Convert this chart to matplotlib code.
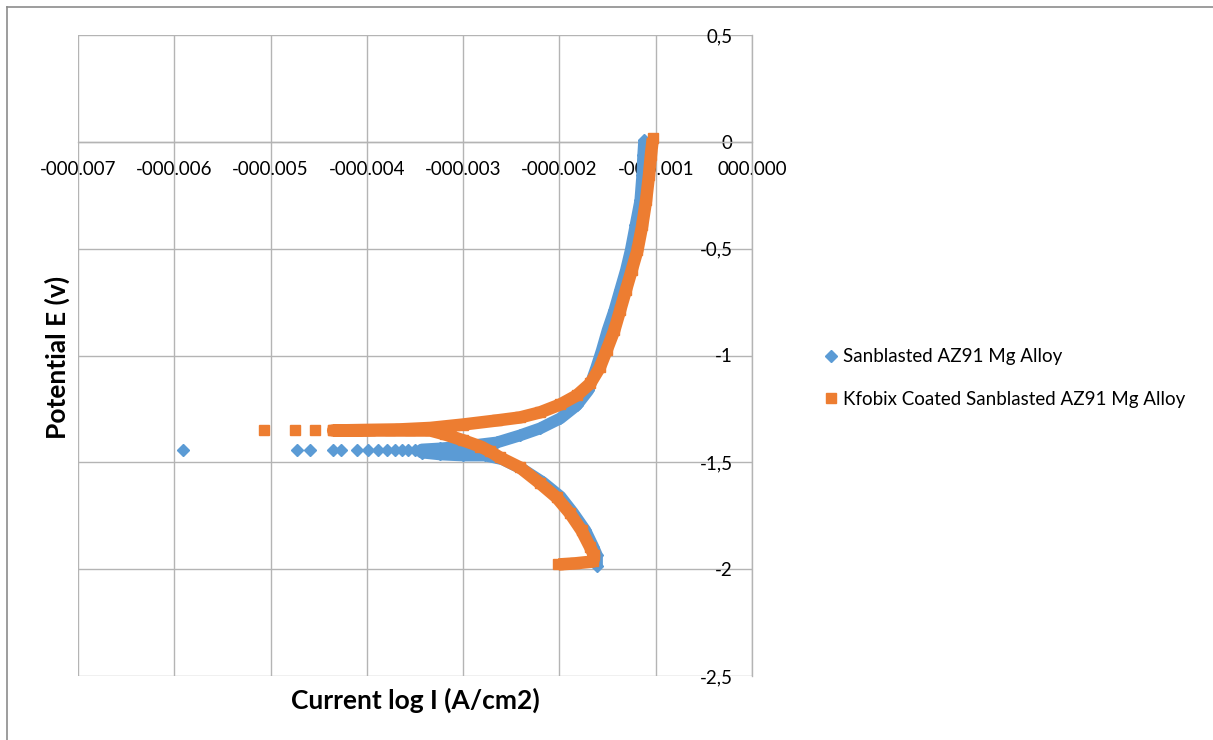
import matplotlib
matplotlib.use("Agg")
import matplotlib.pyplot as plt
import numpy as np
from matplotlib.lines import Line2D
from matplotlib.ticker import FuncFormatter

plt.rcParams['font.family'] = ['Lato', 'DejaVu Sans']

# current (log I) in units of 1e-3, potential E in V
# Sanblasted AZ91 Mg Alloy: dense part, cathodic end -> Ecorr -> anodic end
blue_i = [-1.61, -1.61, -1.65, -1.73, -1.86, -1.99, -2.17, -2.38, -2.59, -2.77, -3.00, -3.24, -3.43,
          -3.43, -3.24, -3.00, -2.65, -2.41, -2.20, -1.99, -1.82, -1.70, -1.62, -1.56, -1.50, -1.43,
          -1.37, -1.31, -1.26, -1.21, -1.16, -1.14, -1.13, -1.12]
blue_e = [-1.983, -1.936, -1.894, -1.819, -1.735, -1.660, -1.594, -1.533, -1.486, -1.468, -1.468, -1.463, -1.454,
          -1.440, -1.435, -1.426, -1.407, -1.374, -1.341, -1.294, -1.233, -1.163, -1.060, -0.976, -0.882, -0.789,
          -0.695, -0.602, -0.508, -0.391, -0.274, -0.157, -0.063, 0.007]
# scattered points near Ecorr
blue_tail_i = [-5.91, -4.73, -4.59, -4.35, -4.27, -4.10, -3.99, -3.88, -3.79, -3.71, -3.63, -3.57, -3.50]
blue_tail_e = [-1.444] * len(blue_tail_i)

# Kfobix Coated Sanblasted AZ91 Mg Alloy
orange_i = [-2.01, -1.84, -1.65, -1.64, -1.68, -1.77, -1.89, -2.03, -2.20, -2.41, -2.62, -2.72, -2.82,
            -3.00, -3.19, -3.34, -3.55, -3.76, -3.97, -4.17, -4.35,
            -4.35, -3.97, -3.66, -3.34, -3.00, -2.65, -2.41, -2.20, -1.99, -1.82, -1.68, -1.58, -1.51,
            -1.43, -1.37, -1.31, -1.25, -1.19, -1.14, -1.10, -1.07, -1.05, -1.03]
orange_e = [-1.978, -1.973, -1.964, -1.936, -1.898, -1.819, -1.739, -1.664, -1.599, -1.524, -1.477, -1.449, -1.426,
            -1.397, -1.369, -1.351, -1.351, -1.351, -1.351, -1.351, -1.351,
            -1.351, -1.348, -1.346, -1.339, -1.323, -1.304, -1.290, -1.266, -1.229, -1.187, -1.131, -1.056, -0.976,
            -0.882, -0.789, -0.695, -0.602, -0.508, -0.391, -0.274, -0.157, -0.063, 0.016]
orange_tail_i = [-5.07, -4.75, -4.54]
orange_tail_e = [-1.351] * len(orange_tail_i)

labels = ['Sanblasted AZ91 Mg Alloy', 'Kfobix Coated Sanblasted AZ91 Mg Alloy']
blue = '#5B9BD5'
orange = '#ED7D31'
grid_c = '#b4b4b4'

fig = plt.figure(figsize=(12.13, 7.40), dpi=100)
ax = fig.add_axes([78 / 1213, 64 / 740, 674 / 1213, 641 / 740])

scale = 1e-3
ax.plot(np.array(blue_i) * scale, blue_e, color=blue, lw=8.5, marker='D', ms=6, solid_capstyle='butt',
        solid_joinstyle='round', zorder=3)
ax.plot(np.array(blue_tail_i) * scale, blue_tail_e, ls='none', color=blue, marker='D', ms=6, zorder=3)
ax.plot(np.array(orange_i) * scale, orange_e, color=orange, lw=9, marker='s', ms=7.5, solid_capstyle='butt',
        solid_joinstyle='round', zorder=4)
ax.plot(np.array(orange_tail_i) * scale, orange_tail_e, ls='none', color=orange, marker='s', ms=7.5, zorder=4)

ax.set_xlim(-0.007, 0)
ax.set_ylim(-2.5, 0.5)
ax.set_xticks(np.arange(-7, 1) * 0.001)
ax.set_yticks(np.arange(-5, 2) * 0.5)


def fmt_x(v, pos):
    s = f"{abs(v):07.3f}"
    return '-' + s if v < -1e-12 else s


def fmt_y(v, pos):
    v = round(v, 2)
    if v == 0:
        return '0'
    return f"{v:g}".replace('.', ',')


ax.xaxis.set_major_formatter(FuncFormatter(fmt_x))
ax.yaxis.set_major_formatter(FuncFormatter(fmt_y))

for side in ['top', 'right']:
    ax.spines[side].set_visible(False)
ax.spines['left'].set_position(('data', 0))
ax.spines['bottom'].set_position(('data', 0))
for side in ['left', 'bottom']:
    ax.spines[side].set_color(grid_c)
    ax.spines[side].set_linewidth(1)
ax.grid(True, color=grid_c, lw=1)
ax.set_axisbelow(True)
ax.tick_params(length=0, pad=14, labelsize=13.5, colors='black')

fig.text(415 / 1213, 1 - 700 / 740, 'Current log I (A/cm2)', ha='center', va='center',
         fontsize=19, fontweight='bold')
fig.text(57 / 1213, 1 - 357 / 740, 'Potential E (v)', ha='center', va='center',
         rotation=90, fontsize=19, fontweight='bold')

handles = [Line2D([], [], ls='none', marker='D', color=blue, ms=6),
           Line2D([], [], ls='none', marker='s', color=orange, ms=7)]
fig.legend(handles, labels, loc='center left', bbox_to_anchor=(808 / 1213, 1 - 378 / 740),
           frameon=False, fontsize=13.5, handlelength=0.6, handletextpad=0.35, labelspacing=1.35)

# chart area border (left and top only, as cropped)
fig.add_artist(Line2D([7 / 1213, 7 / 1213], [0, 1 - 7 / 740], color='#8c8c8c', lw=1.2,
                      transform=fig.transFigure))
fig.add_artist(Line2D([7 / 1213, 1], [1 - 7 / 740, 1 - 7 / 740], color='#8c8c8c', lw=1.2,
                      transform=fig.transFigure))

fig.savefig('out.png', dpi=100)
